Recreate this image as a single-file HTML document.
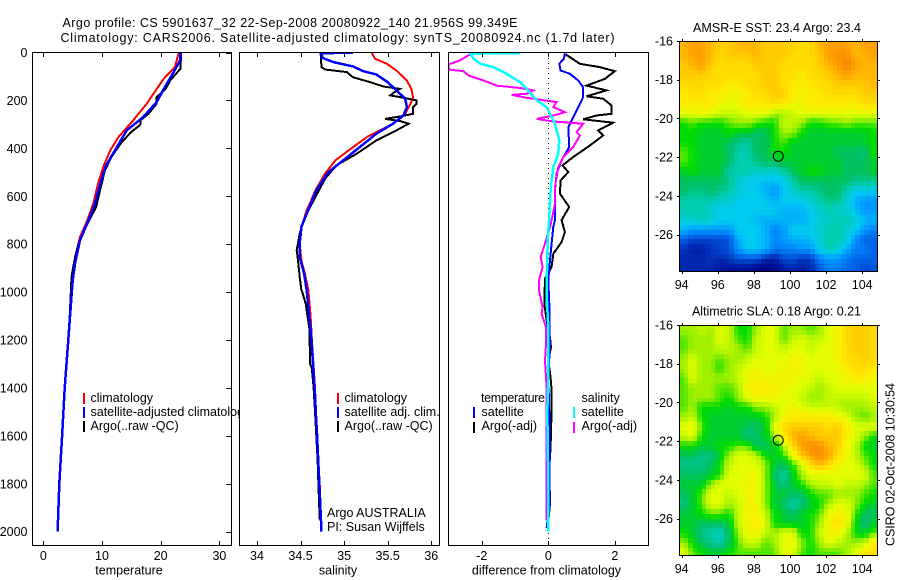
<!DOCTYPE html>
<html lang="en">
<head>
<meta charset="utf-8">
<title>Argo profile 5901637_32</title>
<style>
html,body{margin:0;padding:0;background:#fff;}
svg{display:block;}
text{font-family:"Liberation Sans",Arial,sans-serif;font-size:12.5px;fill:#000;}
</style>
</head>
<body>
<svg id="chart" width="900" height="580" viewBox="0 0 900 580" xmlns="http://www.w3.org/2000/svg">
  <defs>
    <clipPath id="clip-t"><rect x="32" y="52" width="200" height="494"/></clipPath>
    <clipPath id="clip-s"><rect x="239" y="52" width="201" height="494"/></clipPath>
    <clipPath id="clip-d"><rect x="448" y="52" width="201" height="494"/></clipPath>
    <clipPath id="clip-m1"><rect x="679" y="41" width="199" height="231"/></clipPath>
    <clipPath id="clip-m2"><rect x="679" y="325" width="199" height="231"/></clipPath>
  </defs>
  <rect x="0" y="0" width="900" height="580" fill="#fff"/>
  <text x="62.5" y="27" textLength="455">Argo profile: CS 5901637_32 22-Sep-2008 20080922_140 21.956S 99.349E</text>
  <text x="60.5" y="42" textLength="554">Climatology: CARS2006. Satellite-adjusted climatology: synTS_20080924.nc (1.7d later)</text>

  <g id="panel-t"></g>
  <g>
    <rect x="83" y="393" width="2" height="11" fill="#f00"/>
    <text x="90.5" y="402">climatology</text>
    <rect x="83" y="407" width="2" height="11" fill="#00f"/>
    <text x="90.5" y="416">satellite-adjusted climatology</text>
    <rect x="83" y="421" width="2" height="11" fill="#000"/>
    <text x="90.5" y="430">Argo(..raw -QC)</text>
  </g>

  <rect x="239" y="52" width="201" height="494" fill="#fff"/>
  <g id="panel-s"></g>
  <g>
    <rect x="337" y="393" width="2" height="11" fill="#f00"/>
    <text x="344.5" y="402">climatology</text>
    <rect x="337" y="407" width="2" height="11" fill="#00f"/>
    <text x="344.5" y="416">satellite adj. clim.</text>
    <rect x="337" y="421" width="2" height="11" fill="#000"/>
    <text x="344.5" y="430">Argo(..raw -QC)</text>
    <text x="327" y="517">Argo AUSTRALIA</text>
    <text x="327" y="531">PI: Susan Wijffels</text>
  </g>

  <rect x="448" y="52" width="201" height="494" fill="#fff"/>
  <g id="panel-d"></g>
  <g>
    <text x="481" y="402" textLength="64">temperature</text>
    <rect x="473" y="407" width="2" height="11" fill="#00f"/>
    <text x="481.5" y="416">satellite</text>
    <rect x="473" y="422" width="2" height="11" fill="#000"/>
    <text x="481.5" y="430">Argo(-adj)</text>
    <text x="581.5" y="402">salinity</text>
    <rect x="573" y="407" width="2" height="11" fill="#0ff"/>
    <text x="581.5" y="416">satellite</text>
    <rect x="573" y="422" width="2" height="11" fill="#f0f"/>
    <text x="581.5" y="430">Argo(-adj)</text>
  </g>

  <text x="129" y="574.5" text-anchor="middle">temperature</text>
  <text x="338" y="574.5" text-anchor="middle">salinity</text>
  <text x="546.5" y="574.5" text-anchor="middle">difference from climatology</text>

  <text x="693" y="32" textLength="168">AMSR-E SST: 23.4  Argo: 23.4</text>
  <text x="692" y="315.5" textLength="169">Altimetric SLA: 0.18  Argo: 0.21</text>
  <g id="map-1"></g>
  <g id="map-2"></g>
  <text transform="translate(894.5,546) rotate(-90)" textLength="163">CSIRO 02-Oct-2008 10:30:54</text>
</svg>

<script>
// ---------- profile data (depth in dbar, values in data units) ----------
const tClimDepth = [0,61,110,214,284,353,409,471,541,631,700,770,853,937,1000,1200,1400,1600,1800,2000];
const tClimValue = [23.1,22.4,20.5,17.6,15.3,12.8,11.4,10.3,9.4,8.5,7.5,6.25,5.4,5.0,4.83,4.26,3.64,3.2,2.73,2.44];
const tSatDepth = [0,33,82,145,207,270,325,409,471,548,631,700,784,881,951,1000,1200,1400,1600,1800,2000];
const tSatValue = [23.35,23.3,22.2,20.7,19.3,17,14.2,12.2,10.7,9.7,8.8,7.7,6.25,5.4,5.0,4.85,4.26,3.64,3.2,2.73,2.44];
const tArgoDepth = [0,68,117,152,186,214,256,284,300,332,374,436,492,562,645,721,798,881,937,992,1100,1200,1400,1600,1700,1800,1960];
const tArgoValue = [23.5,23.35,21.6,20.85,19.3,19.3,17.9,16.5,16.6,15,13.35,11.6,10.5,9.8,9,7.4,6,5.2,4.8,4.7,4.5,4.24,3.66,3.18,2.96,2.7,2.5];

const sClimDepth = [0,26,47,75,117,152,186,214,256,304,353,409,450,506,575,659,728,798,867,923,992,1100,1200,1400,1600,1800,1950];
const sClimValue = [35.315,35.354,35.49,35.6,35.72,35.77,35.79,35.76,35.7,35.53,35.26,35.05,34.9,34.78,34.67,34.57,34.51,34.49,34.51,34.55,34.59,34.615,34.63,34.665,34.69,34.72,34.735];
const sSatDepth = [1,3,22,40,58,78,92,124,158,193,228,263,297,339,395,450,499,575,673,728,798,853,923,992,1100,1200,1400,1600,1800,2000];
const sSatValue = [35.1,34.74,34.75,34.876,35.1,35.22,35.37,35.5,35.6,35.7,35.72,35.68,35.56,35.37,35.18,34.99,34.82,34.68,34.57,34.51,34.49,34.49,34.54,34.57,34.6,34.625,34.66,34.69,34.715,34.74];
const sArgoDepth = [1,61,71,82,103,124,142,152,165,179,186,200,214,228,256,267,277,286,297,325,367,423,471,527,603,687,756,826,867,937,992,1000,1050,1100,1150,1300,1320,1400,1500,1600,1700,1800,1950];
const sArgoValue = [34.73,34.74,34.78,35.03,35.1,35.3,35.45,35.64,35.58,35.53,35.64,35.83,35.83,35.79,35.79,35.64,35.47,35.64,35.74,35.6,35.37,35.14,34.91,34.78,34.67,34.55,34.49,34.455,34.47,34.49,34.51,34.52,34.56,34.58,34.6,34.61,34.63,34.65,34.665,34.68,34.695,34.705,34.72];

const dTSatDepth = [3,26,47,75,89,117,145,186,242,311,395,450,506,575,700,728,798,867,950,1050,1147,1217,1356,1500,1700,1900,1985];
const dTSatValue = [0.5,0.47,0.33,0.37,0.65,0.9,1.05,1.05,0.85,0.6,0.63,0.4,0.25,0.2,0.2,0.15,0.1,0.05,0,0.03,0.03,0.05,0,0.03,0.03,0.03,-0.05];
const dTArgoDepth = [6,47,61,78,110,138,158,183,193,221,256,263,279,293,325,346,388,436,471,499,534,589,645,700,749,791,840,895,944,1049,1118,1190,1231,1286,1356,1411,1493,1647,1730,1881,1960];
const dTArgoValue = [0.5,0.95,1.55,2,1.7,1.15,1.75,1.15,1.65,1.9,1.9,1.45,1.05,1.95,1.5,1.65,1.25,0.75,0.43,0.6,0.37,0.35,0.63,0.4,0.5,0.4,0.15,0.1,-0.1,-0.12,-0.05,0.05,0.08,0,0.07,0.1,0.1,0.07,0.03,0.05,0];
const dSSatDepth = [2,5,26,47,61,89,124,152,200,228,297,367,423,478,575,687,742,840,1007,1147,1356,1500,1700,1900,2000];
const dSSatValue = [-0.85,-2.35,-2.25,-2.05,-1.65,-1.25,-0.85,-0.65,-0.35,-0.05,0.2,0.33,0.3,0.15,0.07,0.03,0,-0.03,-0.05,0,0,-0.03,-0.01,0,0];
const dSArgoDepth = [8,33,50,71,78,96,117,138,149,158,172,177,189,197,207,228,249,263,277,288,297,332,346,395,436,478,562,631,700,728,798,853,895,950,992,1063,1090,1147,1217,1286,1397,1600,1952];
const dSArgoValue = [-2.35,-2.66,-3,-3,-2.55,-2.4,-1.95,-1.55,-0.8,-0.45,-0.65,-1.1,-0.65,-0.25,0.25,0.15,0.5,0.15,-0.35,0.15,1.05,0.85,0.95,0.75,0.45,0.3,0.2,0.2,0.1,0.05,-0.1,-0.23,-0.17,-0.28,-0.28,-0.17,-0.2,-0.07,-0.07,-0.1,-0.05,-0.05,-0.05];

// ---------- tick labels ----------
const depthTicks = [0,200,400,600,800,1000,1200,1400,1600,1800,2000];
const tempTicks = [0,10,20,30];
const salTicks = [34,34.5,35,35.5,36];
const diffTicks = [-2,0,2];
const lonTicks = [94,96,98,100,102,104];
const latTicks = [-16,-18,-20,-22,-24,-26];

// ---------- map fields (0.5 degree rows from 16S, columns from 93.87E; colour-scale units) ----------
const sstField = [
[11.5,12,12,11.5,11,11,11.5,11.5,11.5,11,11,11,11,10.5,10.5,11.5,12,12,12,11.5,12,12],
[11.5,12,12,11.5,10.5,11,11,11,11.5,11,11,11,10.5,10.5,10.5,11,12,12.5,12.5,11.5,11.5,12],
[11,11.5,12,11,10.5,10.5,10.5,10.5,11,11,11,10.5,10.5,10.5,10.5,11,11.5,12,13,12,11.5,11.5],
[11,11,11,10.5,10.5,10.5,10.5,10.5,10.5,11,11,10.5,10.5,10,10.5,10.5,11,11.5,12,11.5,11.5,11.5],
[10.5,10.5,10.5,10.5,10.5,10,10,10.5,10.5,11,11,10.5,10,10,10,10.5,10.5,11,11,11,11,11.5],
[10,10.5,10.5,10,10,9.5,9.5,10,10.5,10.5,11,11,10,9.5,10,10,10.5,10.5,10.5,10.5,11,11],
[10,10,10,10,9.5,9,9.5,10,10,10,10.5,10,9.5,9.5,10,10,10,10,10,10,10.5,10.5],
[9,9,9.5,9,8.5,8.5,8.5,9,9,9,8,8,8.5,9,9,9,9,9,9,9,9,9],
[7,7.5,7,7,7,7.5,8,8,7.5,7,7,8.5,8.5,8,7,7,7.5,7.5,8,7.5,7.5,7.5],
[7,7,6.5,6.5,6.5,7,6.5,6.5,6,6,7,8,8,7,6.5,6.5,6.5,6.5,6.5,6.5,6.5,7],
[7,7,6.5,6.5,6.5,6,5.5,5,6,6,7,7.5,6.5,6.5,6.5,6.5,6.5,6.5,6.5,6.5,6.5,7],
[7.5,7,6.5,6.5,6.5,6,5,5,6,6,7,7,6.5,6.5,6.5,6.5,6.5,6,6,6,5.5,7],
[7.5,7,6.5,6.5,6.5,6,5,5,5.5,6,6,6.5,6.5,6.5,6.5,6.5,6.5,6.5,6,6,6,6.5],
[6.5,7,6.5,6.5,6.5,5,5,5,4.5,4.5,4.5,5,6,6.5,7,7,6.5,6.5,6,6,6,6.5],
[6,6,6,6,6,5.5,4.5,4,4,3.7,3.7,4,5,6,6,6,6,6,6,5.5,5.5,5.5],
[6,5.5,5.5,6,5.5,5,4.5,4,4,3.5,3,3.7,4.5,5,5,5.5,6,6,5,4,4,4],
[5,5,5,5,4.5,4.5,4,4,4,4,3.5,4,4,4,4.5,5,5.5,5.5,4.5,3.5,3,3],
[5,5,5,4.5,4,4,4,4,4,4,4,3.5,3.5,3.5,4,4.5,5,4.5,4.5,3.7,3,3],
[4.5,4.5,5,4.5,4,4,4,4,3.7,3.5,3.5,3.5,3.5,3.5,3.7,4.5,4.5,5,5,4.5,3.7,3.5],
[3.5,3,3,3,3,3,4,4,4,3.5,2.5,3,4,4,4,4.5,5,5,4.5,4,3,2.5],
[2,1.5,1.5,1.5,1.5,1.7,3.5,4,4,3.5,2.7,3,3.5,3.5,3.7,4.5,5,5,4.5,3,2,2],
[1.2,0.8,0.8,1.2,1.5,1.7,3,4,4,3.5,2.5,2.5,2.5,3,3,4,5,4.5,3.5,2.5,2.5,2],
[1,1,1,1.2,1,1.2,1.7,1.7,1.7,0.8,0.7,1.5,1.7,1.2,1.2,2.5,3,3,2.5,2,2,2],
[1,1,1,1,0.5,0.5,0.5,0.5,0.2,0,0.3,0.7,1,0.7,1,1.7,2.5,2.5,2,2,1.5,1.7]
];
const slaField = [
[8,8,8.5,8,9,8.5,7,7,8,9,9,7.5,8,8,7.5,8,9,9.5,10.5,11,11,10.5],
[7.5,8,8,8,9,8.5,7.5,7,8.5,9,9,7.5,8.5,9,8.5,8.5,9,9.5,10.5,11,11,10.5],
[7.5,8,8,8,8.5,8.5,8,7.5,8.5,9,9,8.5,9,9,8.5,9,9,9.5,10.5,11,11,10.5],
[8,9,8,8,7.5,8,8,8.5,9,9,9,9,9.5,9.5,9,9,9,9.5,10.5,10.5,11,10.5],
[8,9,8,8,7.2,8,8.5,9,9.5,9,9,9.5,9.5,9.5,9,9,9,9,10,10.5,10.5,10],
[7.5,9,8,8,8,8,8.5,9.5,9.5,9.5,9.5,9.5,9.5,9,9,8.5,9,9,9.5,10,10,9.5],
[7.5,8,8,8,7.5,7.5,8,9.5,10,10,9.5,9.5,9,9,8.5,8,8.5,9,9,9,9,9],
[7.5,8,8,8,7.5,7,8,9,9.5,9.5,9.5,9,9,8.5,8,8,8.5,8.5,8.5,8.5,8.5,9],
[7.5,8,7,7,7,6.5,7,7,8,8,8.5,9,9.5,9,8.5,8.5,8.5,8.5,8,8,8,8.5],
[8,8.5,7,6.5,6.5,6.5,6.5,6.5,6.5,7,8,9.5,10,10,10,10,10,9.5,9,8,7.5,8],
[9,9.5,7.5,6.5,6.5,6.5,6.5,6,6,6.5,9,10.5,11,11,11,11,10.5,11,10,9,9,9],
[8.5,9,7,6.5,6.5,6.5,6.5,5.5,6,6.5,8,10,11.5,12,11.5,11,11,11,10,9,8,7],
[7,7,6.5,6.5,7,7,7.5,7.5,6,6,6.5,8,10.5,12,12.5,12.5,11.5,11,9.5,8.5,7,6.5],
[6,6,5.5,5.5,6.5,8,9,9,8.5,7,6.5,7,9,11,12,12.5,12,10.5,9.5,8.5,7.5,7],
[5.5,5.5,5.5,6,7,8.5,9,9,9,8,6.5,6,7,8.5,10.5,11.5,10.5,9.5,9,9,8,7],
[6,6,6,6.5,7,9,9,9,9.5,8,6,5,6.5,8,9,9,9,9,9,9,9,7.5],
[6.5,6.5,6.5,8,9,9,9,9.5,9.5,8,6.5,5.5,6.5,7,8,8.5,8.5,9,8.5,8.5,8,7.5],
[6,6.5,7.5,9,9,8.5,9,9.5,9.5,8,6.5,6.5,6,6,7,7.5,7.5,8,8,8,7.5,7],
[5.5,6.5,7.5,9,9,8,8.5,9.5,9.5,8,6.5,6,5,5.5,6.5,7,8,9,9,8,7,6.5],
[6.5,6.5,7,7.5,7.5,7,8.5,9.5,10,8.5,7,6.5,6,6.5,7,7.5,9,10,9.5,7.5,6,6],
[6.5,6.5,6,6,6,6.5,8.5,9.5,10,9,7,6.5,6.5,6.5,7,8,9.5,10.5,9.5,7,5.5,6.5],
[7,6.5,5.5,5,4.7,6,8,9.5,9.5,8.5,8,9,9,7,7,8.5,9.5,9.5,8.5,7,6.5,7.5],
[8,7,6,5.5,5,6,7.5,8.5,8.5,7.5,8,9,9.5,8,7,8,9,8.5,8,8,8.5,10],
[9,7.5,7,6.5,6.5,7,7.5,7.5,7.5,7.5,7.5,9,9,7.5,7,7.5,7.5,7.5,8,9,10,10.5]
];
const floatLon = 99.349;
const floatLat = -21.956;

// ---------- colour ramp ----------
function rampColor(v){
  const stops = ['#000080','#0028b0','#0064e8','#0098ff','#00ccf0','#00ccb0','#00c060','#00dc00','#a0f000','#e4ff00','#ffec00','#ffcc00','#ffa000','#f08000'];
  const c = Math.max(0, Math.min(stops.length - 1.001, v));
  const i = Math.floor(c), f = c - i;
  const parse = h => [1,3,5].map(k => parseInt(h.substr(k,2),16));
  const a = parse(stops[i]), b = parse(stops[i+1]);
  return 'rgb(' + a.map((q,k) => Math.round(q + (b[k]-q)*f)).join(',') + ')';
}

// ---------- axis functions ----------
const NS = 'http://www.w3.org/2000/svg';
const yDepth = d => 52.5 + d * 0.2396;
const xTemp = v => 43.3 + v * 5.87;
const xSal = v => 257 + (v - 34) * 87.15;
const xDiff = v => 548.3 + v * 33.25;
const mapX = lon => 681.7 + (lon - 94) * 18.05;
const mapYTop = lat => (-16 - lat) * 19.35;

function make(parent, tag, attrs, name){
  const el = document.createElementNS(NS, tag);
  for (const k in attrs) el.setAttribute(k, attrs[k]);
  
  
  parent.appendChild(el);
  return el;
}
function label(parent, x, y, anchor, str, name){
  const el = make(parent, 'text', {x:x, y:y, 'text-anchor':anchor}, name);
  el.textContent = str;
  return el;
}
function curve(parent, values, depths, xf, color, clip, name, width){
  const g = make(parent, 'g', {'clip-path':'url(#' + clip + ')'}, name + '-group');
  const pts = values.map((v,i) => xf(v).toFixed(1) + ',' + yDepth(depths[i]).toFixed(1)).join(' ');
  make(g, 'polyline', {points:pts, fill:'none', stroke:color, 'stroke-width':width || 2, 'shape-rendering':'crispEdges'}, name);
}
function frame(parent, x0, x1, name){
  make(parent, 'rect', {x:x0, y:52.5, width:x1-x0, height:493, fill:'none', stroke:'#000', 'stroke-width':1, 'shape-rendering':'crispEdges'}, name);
}
function xTicks(parent, ticks, xf, name){
  ticks.forEach(t => {
    const x = Math.round(xf(t)) + 0.5;
    make(parent, 'line', {x1:x, x2:x, y1:52.5, y2:57, stroke:'#000', 'shape-rendering':'crispEdges'}, name + '-tick-top');
    make(parent, 'line', {x1:x, x2:x, y1:541, y2:545.5, stroke:'#000', 'shape-rendering':'crispEdges'}, name + '-tick-bottom');
    label(parent, xf(t), 560, 'middle', String(t), name + '-tick-label');
  });
}

// ---------- temperature panel ----------
const pT = document.getElementById('panel-t');
curve(pT, tClimValue, tClimDepth, xTemp, '#f00', 'clip-t', 'temperature-climatology-line');
curve(pT, tArgoValue, tArgoDepth, xTemp, '#000', 'clip-t', 'temperature-argo-line');
curve(pT, tSatValue, tSatDepth, xTemp, '#00f', 'clip-t', 'temperature-satellite-line', 2.5);
frame(pT, 32.5, 231.5, 'temperature-axes-box');
xTicks(pT, tempTicks, xTemp, 'temperature-axis');
depthTicks.forEach(d => {
  const y = Math.round(yDepth(d)) + 0.5;
  make(pT, 'line', {x1:226, x2:231.5, y1:y, y2:y, stroke:'#000', 'shape-rendering':'crispEdges'}, 'depth-tick');
  label(pT, 27.5, yDepth(d) + 4.5, 'end', String(d), 'depth-tick-label');
});

// ---------- salinity panel ----------
const pS = document.getElementById('panel-s');
curve(pS, sClimValue, sClimDepth, xSal, '#f00', 'clip-s', 'salinity-climatology-line');
curve(pS, sArgoValue, sArgoDepth, xSal, '#000', 'clip-s', 'salinity-argo-line');
curve(pS, sSatValue, sSatDepth, xSal, '#00f', 'clip-s', 'salinity-satellite-line', 2.5);
frame(pS, 239.5, 439.5, 'salinity-axes-box');
xTicks(pS, salTicks, xSal, 'salinity-axis');

// ---------- difference panel ----------
const pD = document.getElementById('panel-d');
make(pD, 'line', {x1:548.5, x2:548.5, y1:53, y2:545, stroke:'#000', 'stroke-dasharray':'1 4', 'shape-rendering':'crispEdges'}, 'zero-reference-line');
curve(pD, dTArgoValue, dTArgoDepth, xDiff, '#000', 'clip-d', 'difference-temperature-argo-line');
curve(pD, dTSatValue, dTSatDepth, xDiff, '#00f', 'clip-d', 'difference-temperature-satellite-line');
curve(pD, dSArgoValue, dSArgoDepth, xDiff, '#f0f', 'clip-d', 'difference-salinity-argo-line');
curve(pD, dSSatValue, dSSatDepth, xDiff, '#0ff', 'clip-d', 'difference-salinity-satellite-line', 2.5);
frame(pD, 448.5, 648.5, 'difference-axes-box');
xTicks(pD, diffTicks, xDiff, 'difference-axis');

// ---------- maps ----------
function sampleField(field, r, c){
  // bilinear sample between the centres of field cells
  const rr = Math.max(0, Math.min(field.length - 1, r));
  const cc = Math.max(0, Math.min(field[0].length - 1, c));
  const r0 = Math.floor(rr), c0 = Math.floor(cc);
  const r1 = Math.min(field.length - 1, r0 + 1), c1 = Math.min(field[0].length - 1, c0 + 1);
  const fr = rr - r0, fc = cc - c0;
  return (field[r0][c0] * (1 - fc) + field[r0][c1] * fc) * (1 - fr) + (field[r1][c0] * (1 - fc) + field[r1][c1] * fc) * fr;
}
function drawMap(group, field, top, clip, name, labelBase){
  const box = {x:679.5, y:top + 0.5, w:198, h:230};
  const cells = make(group, 'g', {'clip-path':'url(#' + clip + ')', 'shape-rendering':'crispEdges'}, name + '-cells');
  for (let r = 0; r < field.length * 2; r++) {
    for (let c = 0; c < field[0].length * 2; c++) {
      const v = sampleField(field, (r + 0.5) / 2 - 0.5, (c + 0.5) / 2 - 0.5);
      const x0 = mapX(93.87 + c * 0.25), x1 = mapX(93.87 + (c + 1) * 0.25);
      const y0 = top + mapYTop(-16 - r * 0.25), y1 = top + mapYTop(-16 - (r + 1) * 0.25);
      make(cells, 'rect', {x:Math.round(x0), y:Math.round(y0), width:Math.round(x1)-Math.round(x0), height:Math.round(y1)-Math.round(y0), fill:rampColor(v)}, name + '-cell');
    }
  }
  make(group, 'rect', {x:box.x, y:box.y, width:box.w, height:box.h, fill:'none', stroke:'#000', 'shape-rendering':'crispEdges'}, name + '-box');
  lonTicks.forEach(t => {
    const x = Math.round(mapX(t)) + 0.5;
    make(group, 'line', {x1:x, x2:x, y1:box.y - 2.5, y2:box.y, stroke:'#000', 'shape-rendering':'crispEdges'}, name + '-lon-tick-top');
    make(group, 'line', {x1:x, x2:x, y1:box.y + box.h, y2:box.y + box.h + 2.5, stroke:'#000', 'shape-rendering':'crispEdges'}, name + '-lon-tick-bottom');
    label(group, mapX(t), labelBase, 'middle', String(t), name + '-lon-label');
  });
  latTicks.forEach(t => {
    const y = Math.round(top + mapYTop(t)) + 0.5;
    make(group, 'line', {x1:box.x - 2.5, x2:box.x, y1:y, y2:y, stroke:'#000', 'shape-rendering':'crispEdges'}, name + '-lat-tick-left');
    make(group, 'line', {x1:box.x + box.w, x2:box.x + box.w + 2.5, y1:y, y2:y, stroke:'#000', 'shape-rendering':'crispEdges'}, name + '-lat-tick-right');
    label(group, 673, top + mapYTop(t) + 4.5, 'end', String(t), name + '-lat-label');
  });
  make(group, 'circle', {cx:mapX(floatLon), cy:top + mapYTop(floatLat), r:5, fill:'none', stroke:'#000', 'stroke-width':1}, name + '-float-marker');
}
drawMap(document.getElementById('map-1'), sstField, 41, 'clip-m1', 'sst-map', 289);
drawMap(document.getElementById('map-2'), slaField, 325, 'clip-m2', 'sla-map', 573);
</script>
</body>
</html>
